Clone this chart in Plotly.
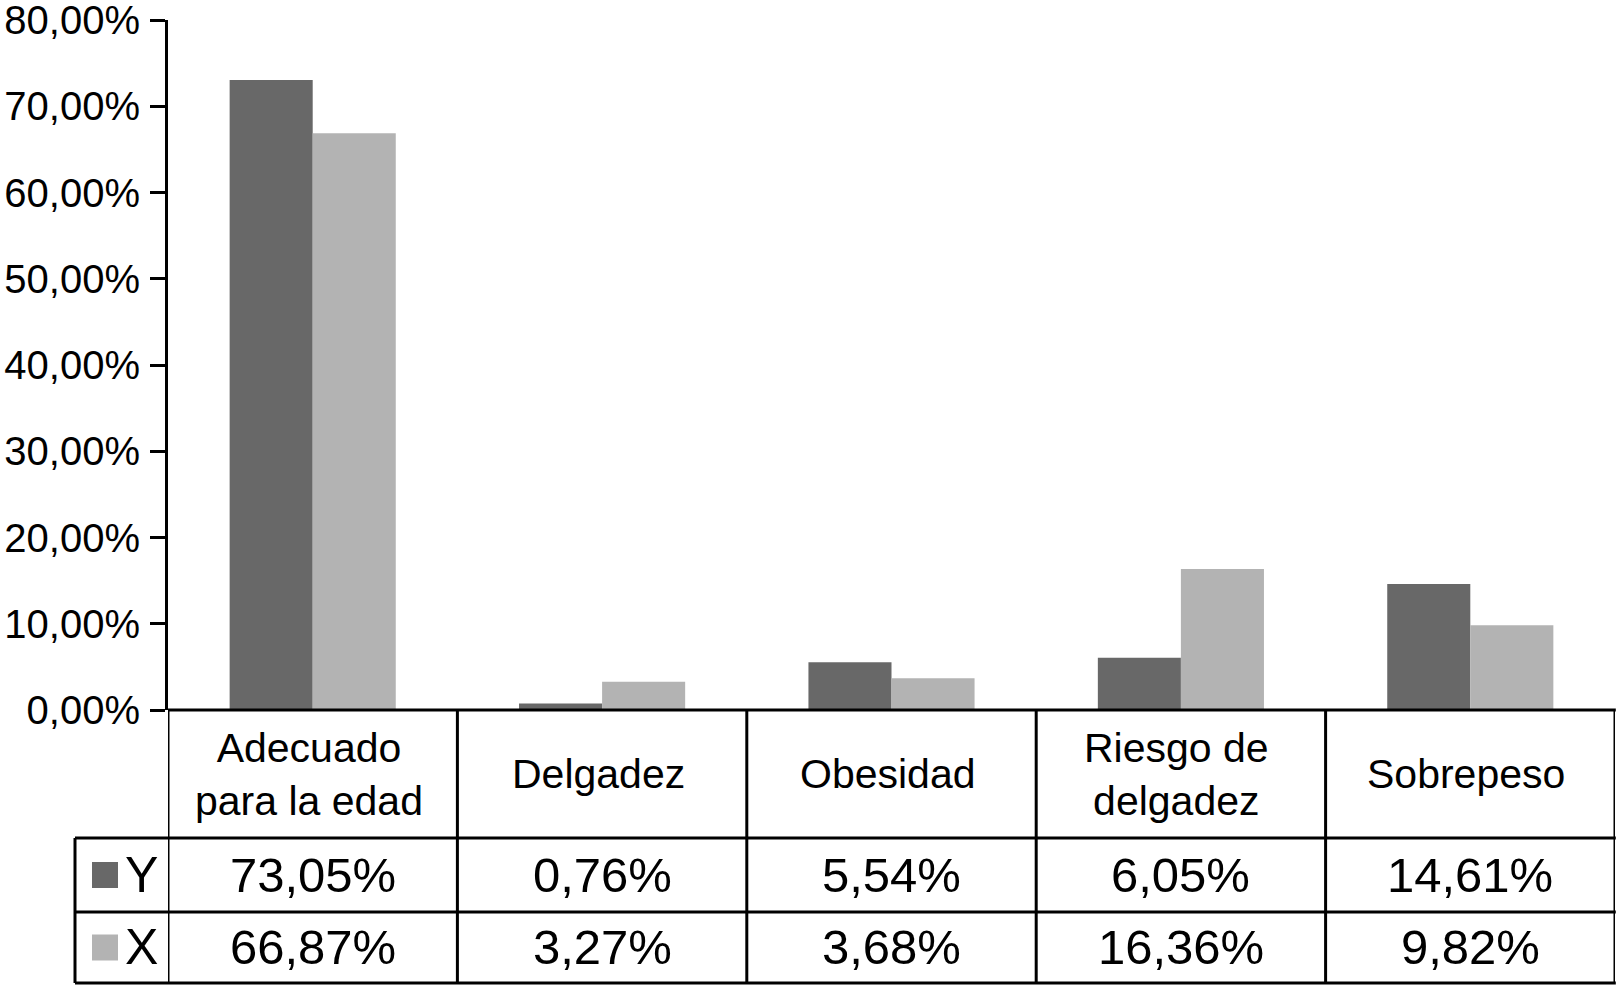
import plotly.graph_objects as go

categories = ["Adecuado para la edad", "Delgadez", "Obesidad", "Riesgo de delgadez", "Sobrepeso"]
category_labels = ["Adecuado<br>para la edad", "Delgadez", "Obesidad", "Riesgo de<br>delgadez", "Sobrepeso"]
series_names = ["Y", "X"]
values_y = [73.05, 0.76, 5.54, 6.05, 14.61]
values_x = [66.87, 3.27, 3.68, 16.36, 9.82]
tick_values = [0, 10, 20, 30, 40, 50, 60, 70, 80]

colors = ["#686868", "#b3b3b3"]
W, H = 1617, 985
FONT = "Liberation Sans, Arial, Helvetica, sans-serif"


def fmt(v):
    return f"{v:.2f}".replace(".", ",") + "%"


def px(x):
    return x / W


def py(y):
    return (H - y) / H


# layout geometry (pixels)
x_left, x_right = 168, 1615
y_top, y_zero = 20, 710
y_row1, y_row2, y_bottom = 838, 912, 983
x_leg = 75

fig = go.Figure()
for name, vals, col in zip(series_names, [values_y, values_x], colors):
    fig.add_trace(go.Bar(x=categories, y=vals, name=name, marker=dict(color=col, line=dict(width=0)),
                         showlegend=False))

shapes = []
lw = 3
line = dict(color="black", width=lw)
shapes.append(dict(type="line", xref="paper", yref="paper", x0=px(x_left), x1=px(x_right) + 0.0005,
                   y0=py(y_zero), y1=py(y_zero), line=line))
for yy in [y_row1, y_row2, y_bottom]:
    shapes.append(dict(type="line", xref="paper", yref="paper", x0=px(x_leg), x1=px(x_right) + 0.0005,
                       y0=py(yy), y1=py(yy), line=line))
shapes.append(dict(type="line", xref="paper", yref="paper", x0=px(x_leg), x1=px(x_leg),
                   y0=py(y_row1), y1=py(y_bottom), line=line))
for i in range(len(categories) + 1):
    shapes.append(dict(type="line", xref="x", yref="paper", x0=i - 0.5, x1=i - 0.5,
                       y0=py(y_zero), y1=py(y_bottom), line=line))
for name, col, yc in zip(series_names, colors, [(y_row1 + y_row2) / 2, (y_row2 + y_bottom) / 2]):
    shapes.append(dict(type="rect", xref="paper", yref="paper", x0=px(92), x1=px(118),
                       y0=py(yc - 13), y1=py(yc + 13), fillcolor=col, line=dict(width=0)))

annotations = []
for cat, lab in zip(categories, category_labels):
    annotations.append(dict(x=cat, xref="x", y=py((y_zero + y_row1) / 2), yref="paper", text=lab,
                            showarrow=False, xanchor="center", yanchor="middle", xshift=-4,
                            font=dict(family=FONT, size=41, color="black")))
row_centers = [(y_row1 + y_row2) / 2, (y_row2 + y_bottom) / 2]
for name, vals, yc in zip(series_names, [values_y, values_x], row_centers):
    annotations.append(dict(x=px(123), xref="paper", y=py(yc), yref="paper", text=name,
                            showarrow=False, xanchor="left", yanchor="middle",
                            font=dict(family=FONT, size=50, color="black")))
    for cat, v in zip(categories, vals):
        annotations.append(dict(x=cat, xref="x", y=py(yc), yref="paper", text=fmt(v),
                                showarrow=False, xanchor="center", yanchor="middle",
                                font=dict(family=FONT, size=49, color="black")))

fig.update_layout(
    template="none",
    width=W, height=H, autosize=False,
    margin=dict(l=0, r=0, t=0, b=0, pad=0),
    paper_bgcolor="white", plot_bgcolor="white",
    barmode="group", bargap=0.426, bargroupgap=0,
    shapes=shapes, annotations=annotations,
    xaxis=dict(domain=[px(x_left), px(x_right)], range=[-0.5, len(categories) - 0.5],
               automargin=False,
               showticklabels=False, showline=False, showgrid=False, zeroline=False, ticks=""),
    yaxis=dict(domain=[py(y_zero), py(y_top)], range=[0, 80], tickvals=tick_values,
               automargin=False, ticklabeloverflow="allow",
               ticktext=[fmt(t) for t in tick_values], showline=True, linecolor="black", linewidth=lw,
               ticks="outside", ticklen=15, tickwidth=lw, tickcolor="black", showgrid=False,
               zeroline=False, ticklabelstandoff=2,
               tickfont=dict(family=FONT, size=40, color="black")),
)

post = """
document.documentElement.style.margin='0';
document.body.style.margin='0';
document.body.style.overflow='hidden';
"""
fig.write_html("out.html", config={"responsive": False, "displayModeBar": False}, post_script=post)
